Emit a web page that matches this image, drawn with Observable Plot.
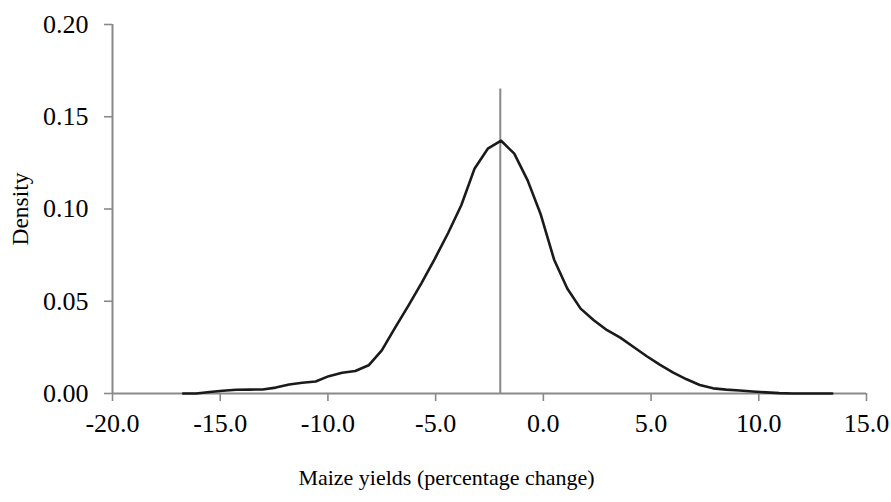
<!DOCTYPE html>
<html>
<head>
<meta charset="utf-8">
<script src="https://cdn.jsdelivr.net/npm/d3@7"></script>
<script src="https://cdn.jsdelivr.net/npm/@observablehq/plot@0.6"></script>
<style>
  html, body { margin: 0; padding: 0; background: #fff; }
</style>
</head>
<body>
<div id="chart"></div>
<script>
// Data
const yieldChange = [
  -16.72, -16.11, -15.49, -14.88, -14.26, -13.65, -13.03, -12.42, -11.80, -11.19,
  -10.57, -9.96, -9.34, -8.73, -8.11, -7.50, -6.88, -6.27, -5.65, -5.04,
  -4.42, -3.81, -3.19, -2.58, -1.96, -1.35, -0.73, -0.12, 0.50, 1.11,
  1.73, 2.34, 2.96, 3.57, 4.19, 4.80, 5.42, 6.03, 6.65, 7.26,
  7.88, 8.49, 9.11, 9.72, 10.34, 10.95, 11.57, 12.18, 12.80, 13.41
];
const density = [
  0.0000, 0.0000, 0.0008, 0.0015, 0.0020, 0.0021, 0.0022, 0.0032, 0.0049, 0.0058,
  0.0065, 0.0094, 0.0112, 0.0122, 0.0153, 0.0234, 0.0357, 0.0475, 0.0600, 0.0730,
  0.0870, 0.1020, 0.1220, 0.1327, 0.1370, 0.1300, 0.1155, 0.0970, 0.0725, 0.0569,
  0.0460, 0.0397, 0.0343, 0.0303, 0.0252, 0.0202, 0.0155, 0.0113, 0.0077, 0.0046,
  0.0028, 0.0021, 0.0016, 0.0011, 0.0006, 0.0002, 0.0000, 0.0000, 0.0000, 0.0000
];
const markerX = [-2.0];
const markerTop = 0.165;
const xTicks = [-20, -15, -10, -5, 0, 5, 10, 15];
const yTicks = [0, 0.05, 0.10, 0.15, 0.20];
const xTitle = "Maize yields (percentage change)";
const yTitle = "Density";

const rows = yieldChange.map((x, i) => ({x, y: density[i]}));
const gray = "#898989";

const chart = Plot.plot({
  width: 891,
  height: 502,
  marginLeft: 112,
  marginRight: 25,
  marginTop: 24,
  marginBottom: 109,
  x: {domain: [-20, 15]},
  y: {domain: [0, 0.2]},
  style: {fontFamily: "'Liberation Serif', 'Times New Roman', serif", fontSize: "26px", color: "black", background: "white"},
  marks: [
    Plot.axisX({ticks: xTicks, tickFormat: d => d.toFixed(1), tickSize: 8, tickPadding: 12, stroke: gray, strokeWidth: 1.6, label: null, fontSize: 26}),
    Plot.axisY({ticks: yTicks, tickFormat: d => d.toFixed(2), tickSize: 8, tickPadding: 16, stroke: gray, strokeWidth: 1.6, label: null, fontSize: 26}),
    Plot.ruleY([0], {stroke: gray, strokeWidth: 2}),
    Plot.ruleX([-20], {stroke: gray, strokeWidth: 2}),
    Plot.ruleX(markerX, {y1: 0, y2: markerTop, stroke: gray, strokeWidth: 2}),
    Plot.line(rows, {x: "x", y: "y", stroke: "#1a1a1a", strokeWidth: 2.6}),
    Plot.text([yTitle], {frameAnchor: "left", rotate: -90, dx: -92, textAnchor: "middle", fontSize: 23.5}),
    Plot.text([xTitle], {frameAnchor: "bottom", dx: -43, dy: 91, textAnchor: "middle", fontSize: 22}),
  ]
});
document.getElementById("chart").appendChild(chart);
</script>
</body>
</html>
